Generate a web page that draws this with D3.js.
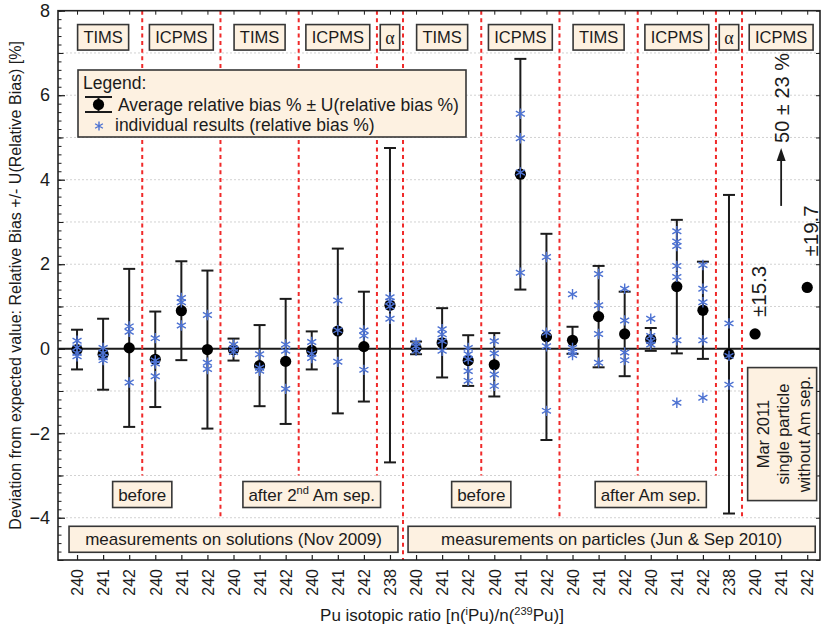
<!DOCTYPE html>
<html>
<head>
<meta charset="utf-8">
<script src="https://cdn.jsdelivr.net/npm/d3@7"></script>
<style>
  html, body { margin: 0; padding: 0; background: #fff; }
  svg { display: block; font-family: "Liberation Sans", Arial, sans-serif; }
</style>
</head>
<body>
<svg id="chart" width="822" height="630"></svg>
<script>
// ---- data -------------------------------------------------------------
// Pu isotope of each ratio n(iPu)/n(239Pu), left to right
const isotopes = ["240","241","242","240","241","242","240","241","242","240","241","242","238",
                  "240","241","242","240","241","242","240","241","242","240","241","242","238",
                  "240","241","242"];

// average relative bias (%) per ratio
const meanBias = [-0.02, -0.13, 0.02, -0.25, 0.90, -0.02, -0.02, -0.40, -0.30, -0.04, 0.42, 0.05, 1.03,
                   0.02, 0.14, -0.28, -0.38, 4.13, 0.28, 0.20, 0.76, 0.35, 0.22, 1.47, 0.91, -0.13,
                   0.35, 50, 1.45];

// expanded uncertainty U of the relative bias (%)
const expandedU = [0.47, 0.84, 1.87, 1.13, 1.17, 1.87, 0.26, 0.96, 1.48, 0.45, 1.95, 1.30, 3.72,
                   0.15, 0.82, 0.60, 0.75, 2.73, 2.44, 0.32, 1.20, 1.00, 0.27, 1.58, 1.15, 3.77,
                   15.3, 23, 19.7];

// individual results (relative bias %)
const individualResults = [
  [0.19, 0.03, -0.10, -0.18],
  [0.02, -0.10, -0.20, -0.27],
  [0.53, 0.40, -0.80],
  [0.25, -0.28, -0.35, -0.65],
  [1.20, 1.10, 0.55],
  [0.80, -0.33, -0.48],
  [0.10, 0.00, -0.08],
  [-0.13, -0.45, -0.52],
  [0.10, -0.05, -0.95],
  [0.16, -0.12, -0.22],
  [1.14, 0.44, -0.31],
  [0.43, 0.31, -0.50],
  [1.22, 1.12, 1.00, 0.71],
  [0.14, 0.06, -0.05],
  [0.46, 0.34, 0.18, -0.05],
  [0.02, -0.13, -0.25, -0.53, -0.76],
  [0.18, -0.11, -0.61, -0.88],
  [5.56, 4.98, 4.17, 1.80],
  [2.17, 0.38, 0.06, -1.47],
  [1.29, 0.02, -0.08, -0.15],
  [1.77, 1.03, 0.35, -0.33],
  [1.42, 0.67, -0.09, -0.27],
  [0.71, 0.30, 0.18, 0.10],
  [2.78, 2.54, 2.43, 1.96, 1.70, 0.20, -1.28],
  [1.98, 1.42, 1.10, 0.20, -1.16],
  [0.60, -0.17, -0.85],
  [], [], []
];

// measurement technique per block of ratios
const methodGroups = [
  { label: "TIMS",  first: 0,  last: 2 },
  { label: "ICPMS", first: 3,  last: 5 },
  { label: "TIMS",  first: 6,  last: 8 },
  { label: "ICPMS", first: 9,  last: 11 },
  { label: "α",     first: 12, last: 12 },
  { label: "TIMS",  first: 13, last: 15 },
  { label: "ICPMS", first: 16, last: 18 },
  { label: "TIMS",  first: 19, last: 21 },
  { label: "ICPMS", first: 22, last: 24 },
  { label: "α",     first: 25, last: 25 },
  { label: "ICPMS", first: 26, last: 28 }
];

// Am separation stage
const stageGroups = [
  { label: [{ t: "before" }], first: 0, last: 5 },
  { label: [{ t: "after 2" }, { t: "nd", sup: true }, { t: " Am sep." }], first: 6, last: 12 },
  { label: [{ t: "before" }], first: 13, last: 18 },
  { label: [{ t: "after Am sep." }], first: 19, last: 25 }
];
const singleParticleNote = { lines: ["Mar 2011", "single particle", "without Am sep."], first: 26, last: 28 };

// measurement campaigns
const campaignGroups = [
  { label: "measurements on solutions (Nov 2009)", first: 0, last: 12 },
  { label: "measurements on particles (Jun & Sep 2010)", first: 13, last: 28 }
];

const yTickLabels = [-4, -2, 0, 2, 4, 6, 8];

// ---- layout -----------------------------------------------------------
const L = 58, R = 820, T = 10.7, B = 560;
const svg = d3.select("#chart");
const x = d3.scaleLinear().domain([-0.73, 28.49]).range([L, R]);
const y = d3.scaleLinear().domain([-5, 8]).range([B, T]);

const ink = "#1b1b1b";
const boxFill = "#fdf1e1";
const boxStroke = "#363636";
const starBlue = "#4d72d2";
const sepRed = "#f02a2a";

// gridlines at every whole percent
svg.append("g").selectAll("line")
  .data(d3.range(-4, 8).filter(v => v !== 0))
  .join("line")
  .attr("x1", L).attr("x2", R)
  .attr("y1", d => y(d)).attr("y2", d => y(d))
  .attr("stroke", "#d2d2d2").attr("stroke-width", 1).attr("stroke-dasharray", "2,2");

// zero bias line
svg.append("line")
  .attr("x1", L).attr("x2", R).attr("y1", y(0)).attr("y2", y(0))
  .attr("stroke", ink).attr("stroke-width", 2);

// separators between technique blocks; deeper where a stage or campaign ends
const separators = methodGroups.slice(0, -1).map(g => {
  const after = g.last;
  let depth = -3;
  if (campaignGroups.some(c => c.last === after)) depth = y.domain()[0];
  else if (stageGroups.some(s => s.last === after) || singleParticleNote.first === after + 1) depth = -4;
  return { pos: after + 0.5, depth };
});
svg.append("g").selectAll("line")
  .data(separators)
  .join("line")
  .attr("x1", d => x(d.pos)).attr("x2", d => x(d.pos))
  .attr("y1", T).attr("y2", d => y(d.depth))
  .attr("stroke", sepRed).attr("stroke-width", 2).attr("stroke-dasharray", "4,3.6");

// ---- axes -------------------------------------------------------------
function stripDomain(g) { g.select(".domain").remove(); }

svg.append("g").attr("transform", `translate(${L},0)`)
  .call(d3.axisLeft(y).tickValues(d3.range(-25, 41).map(v => v / 5)).tickSize(-3.5).tickFormat(""))
  .call(stripDomain)
  .selectAll("line").attr("stroke", ink);

svg.append("g").attr("transform", `translate(${L},0)`)
  .call(d3.axisLeft(y).tickValues(d3.range(-5, 9, 2)).tickSize(-5.5).tickFormat(""))
  .call(stripDomain)
  .selectAll("line").attr("stroke", ink);

const yAxis = svg.append("g").attr("transform", `translate(${L},0)`)
  .call(d3.axisLeft(y).tickValues(yTickLabels).tickSize(-7).tickPadding(8).tickFormat(d3.format("d")))
  .call(stripDomain);
yAxis.selectAll("line").attr("stroke", ink).attr("stroke-width", 1.2);
yAxis.selectAll("text").attr("font-size", 18).attr("fill", ink).attr("font-family", "Liberation Sans, Arial, sans-serif");

svg.append("g").attr("transform", `translate(${R},0)`)
  .call(d3.axisRight(y).tickValues(d3.range(-5, 9)).tickSize(-4).tickFormat(""))
  .call(stripDomain)
  .selectAll("line").attr("stroke", ink);

svg.append("g").attr("transform", `translate(0,${T})`)
  .call(d3.axisTop(x).tickValues(d3.range(isotopes.length)).tickSize(-4).tickFormat(""))
  .call(stripDomain)
  .selectAll("line").attr("stroke", ink);

const xAxis = svg.append("g").attr("transform", `translate(0,${B})`)
  .call(d3.axisBottom(x).tickValues(d3.range(isotopes.length)).tickSize(-5).tickFormat(i => isotopes[i]))
  .call(stripDomain);
xAxis.selectAll("line").attr("stroke", ink).attr("stroke-width", 1.2);
xAxis.selectAll("text")
  .attr("transform", "rotate(-90)")
  .attr("x", -9).attr("y", 0).attr("dy", "0.36em")
  .attr("text-anchor", "end")
  .attr("font-size", 16).attr("fill", ink)
  .attr("font-family", "Liberation Sans, Arial, sans-serif");

svg.append("rect")
  .attr("x", L).attr("y", T).attr("width", R - L).attr("height", B - T)
  .attr("fill", "none").attr("stroke", "#222").attr("stroke-width", 1.6);

// ---- marks ------------------------------------------------------------
const points = meanBias.map((m, i) => ({ i, m, u: expandedU[i], stars: individualResults[i] }));
const [yLo, yHi] = y.domain();
const barred = points.filter(p => p.m - p.u >= yLo && p.m + p.u <= yHi);
const wideU = points.filter(p => p.m <= yHi && !(p.m - p.u >= yLo && p.m + p.u <= yHi));
const offScale = points.filter(p => p.m > yHi);

const bars = svg.append("g").attr("stroke", ink).attr("stroke-width", 2);
bars.selectAll("line.stem").data(barred).join("line").attr("class", "stem")
  .attr("x1", d => x(d.i)).attr("x2", d => x(d.i))
  .attr("y1", d => y(d.m + d.u)).attr("y2", d => y(d.m - d.u));
bars.selectAll("line.capTop").data(barred).join("line").attr("class", "capTop")
  .attr("x1", d => x(d.i) - 6).attr("x2", d => x(d.i) + 6)
  .attr("y1", d => y(d.m + d.u)).attr("y2", d => y(d.m + d.u));
bars.selectAll("line.capBot").data(barred).join("line").attr("class", "capBot")
  .attr("x1", d => x(d.i) - 6).attr("x2", d => x(d.i) + 6)
  .attr("y1", d => y(d.m - d.u)).attr("y2", d => y(d.m - d.u));

svg.append("g").selectAll("circle")
  .data(points.filter(p => p.m <= yHi))
  .join("circle")
  .attr("cx", d => x(d.i)).attr("cy", d => y(d.m)).attr("r", 5.6)
  .attr("fill", "#000");

// asterisk marker: one vertical stroke and two strokes at ±30°
function asterisk(r) {
  const u = r * Math.cos(Math.PI / 6), t = r * Math.sin(Math.PI / 6);
  return `M0,${-r}L0,${r}M${-u},${-t}L${u},${t}M${-u},${t}L${u},${-t}`;
}
const starData = points.flatMap(p => p.stars.map(v => ({ i: p.i, v })));
svg.append("g").selectAll("path")
  .data(starData)
  .join("path")
  .attr("d", asterisk(5.2))
  .attr("transform", d => `translate(${x(d.i)},${y(d.v)})`)
  .attr("fill", "none").attr("stroke", starBlue).attr("stroke-width", 1.4);

// uncertainties too large for the axis are written next to the point
const uLabelLift = { 26: 17, 28: 31 };
svg.append("g").selectAll("text")
  .data(wideU)
  .join("text")
  .attr("transform", d => `translate(${x(d.i) + 11},${y(d.m) - (uLabelLift[d.i] ?? 20)}) rotate(-90)`)
  .attr("font-size", 20.5).attr("fill", ink)
  .text(d => "±" + d.u.toFixed(1));

// off-scale result: arrow pointing up with its value
offScale.forEach(p => {
  const ax = x(p.i);
  const yStart = y(3.38), yTip = y(4.75);
  svg.append("line").attr("x1", ax).attr("x2", ax).attr("y1", yStart).attr("y2", yTip + 10)
    .attr("stroke", ink).attr("stroke-width", 1.8);
  svg.append("path")
    .attr("d", `M${ax},${yTip}L${ax - 4.5},${yTip + 13}L${ax + 4.5},${yTip + 13}Z`)
    .attr("fill", ink);
  svg.append("text")
    .attr("transform", `translate(${ax + 8},${y(4.87)}) rotate(-90)`)
    .attr("font-size", 20).attr("fill", ink)
    .text(`${p.m} ± ${p.u} %`);
});

// ---- labelled boxes ---------------------------------------------------
function writeSegments(text, segments, size) {
  segments.forEach((s, k) => {
    const ts = text.append("tspan").text(s.t);
    if (s.sup) ts.attr("font-size", size * 0.65).attr("dy", -size * 0.38);
    else if (k > 0 && segments[k - 1].sup) ts.attr("dy", size * 0.38);
  });
}

function labelBox(cx, cy, segments, opt) {
  const g = svg.append("g");
  const size = opt.size;
  const text = g.append("text")
    .attr("x", cx).attr("y", cy + size * 0.36)
    .attr("text-anchor", "middle").attr("font-size", size).attr("fill", ink);
  if (opt.family) text.attr("font-family", opt.family);
  writeSegments(text, segments, size);
  const w = opt.width ?? (text.node().getComputedTextLength() + 2 * opt.pad);
  g.insert("rect", "text")
    .attr("x", cx - w / 2).attr("y", cy - opt.h / 2)
    .attr("width", w).attr("height", opt.h)
    .attr("fill", boxFill).attr("stroke", boxStroke).attr("stroke-width", 1.6);
  return g;
}

// technique boxes along the top
methodGroups.forEach(g => {
  const cx = (x(g.first) + x(g.last)) / 2;
  const greek = g.label === "α";
  labelBox(cx, y(7.37), [{ t: g.label }], {
    size: greek ? 18 : 16.5, pad: greek ? 5 : 5.8, h: 25.5,
    family: greek ? "Liberation Serif, Times New Roman, serif" : null
  });
});

// separation stage boxes
stageGroups.forEach(g => {
  const cx = (x(g.first) + x(g.last)) / 2;
  labelBox(cx, y(-3.45), g.label, { size: 17, pad: 5.5, h: 26 });
});

// campaign boxes spanning their ratios
campaignGroups.forEach(g => {
  const x0 = x(g.first) - 8, x1 = x(g.last) + 8;
  labelBox((x0 + x1) / 2, y(-4.51), [{ t: g.label }], { size: 17, pad: 0, h: 26, width: x1 - x0 });
});

// rotated note for the single-particle results
{
  const cx = x((singleParticleNote.first + singleParticleNote.last) / 2) + 1;
  const cy = y(-2.02);
  const g = svg.append("g").attr("transform", `translate(${cx},${cy}) rotate(-90)`);
  g.append("rect").attr("x", -66.5).attr("y", -34.5).attr("width", 133).attr("height", 69)
    .attr("fill", boxFill).attr("stroke", boxStroke).attr("stroke-width", 1.6);
  g.selectAll("text").data(singleParticleNote.lines).join("text")
    .attr("x", 0).attr("y", (d, k) => -13.5 + k * 20.5)
    .attr("text-anchor", "middle").attr("font-size", 16.5).attr("fill", ink)
    .text(d => d);
}

// ---- legend -----------------------------------------------------------
{
  const g = svg.append("g");
  g.append("rect").attr("x", 78).attr("y", 70).attr("width", 388).attr("height", 67)
    .attr("fill", boxFill).attr("stroke", boxStroke).attr("stroke-width", 1.6);
  g.append("text").attr("x", 83).attr("y", 89).attr("font-size", 17.5).attr("fill", ink).text("Legend:");
  const ix = 98.5;
  g.append("line").attr("x1", ix).attr("x2", ix).attr("y1", 97).attr("y2", 112).attr("stroke", ink).attr("stroke-width", 2);
  g.append("line").attr("x1", 85).attr("x2", 112).attr("y1", 97).attr("y2", 97).attr("stroke", ink).attr("stroke-width", 2);
  g.append("line").attr("x1", 85).attr("x2", 112).attr("y1", 112).attr("y2", 112).attr("stroke", ink).attr("stroke-width", 2);
  g.append("circle").attr("cx", ix).attr("cy", 104.5).attr("r", 5.6).attr("fill", "#000");
  g.append("text").attr("x", 118).attr("y", 110.5).attr("font-size", 17.5).attr("fill", ink)
    .text("Average relative bias % ± U(relative bias %)");
  g.append("path").attr("d", asterisk(4.5)).attr("transform", "translate(99,126)")
    .attr("fill", "none").attr("stroke", starBlue).attr("stroke-width", 1.4);
  g.append("text").attr("x", 115).attr("y", 131).attr("font-size", 17.5).attr("fill", ink)
    .text("individual results (relative bias %)");
}

// ---- axis titles ------------------------------------------------------
svg.append("text")
  .attr("transform", `translate(21,${(T + B) / 2}) rotate(-90)`)
  .attr("text-anchor", "middle").attr("font-size", 16).attr("fill", ink)
  .text("Deviation from expected value: Relative Bias +/- U(Relative Bias) [%]");

{
  const t = svg.append("text").attr("x", 442).attr("y", 621)
    .attr("text-anchor", "middle").attr("font-size", 17).attr("fill", ink);
  writeSegments(t, [{ t: "Pu isotopic ratio [n(" }, { t: "i", sup: true }, { t: "Pu)/n(" },
                    { t: "239", sup: true }, { t: "Pu)]" }], 17);
}
</script>
</body>
</html>
